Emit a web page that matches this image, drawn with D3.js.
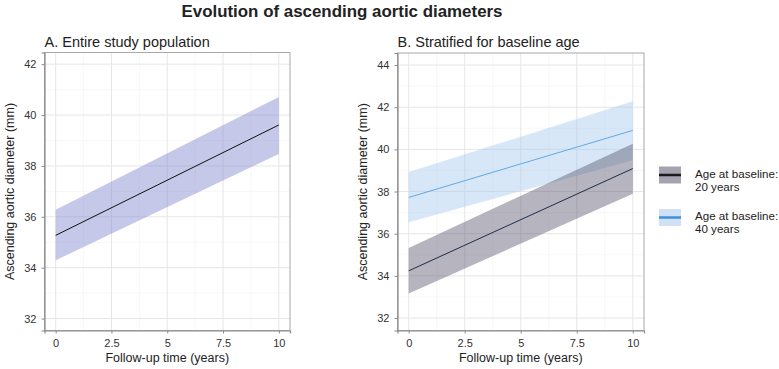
<!DOCTYPE html>
<html><head><meta charset="utf-8">
<script src="https://cdn.jsdelivr.net/npm/d3@7"></script>
<style>body{margin:0;background:#fff;font-family:"Liberation Sans",Arial,sans-serif;}</style>
</head><body><svg id="c" width="779" height="369"></svg>
<script>
const xTicks = [0, 2.5, 5, 7.5, 10];
const xTickLabels = ["0", "2.5", "5", "7.5", "10"];
const yTicksA = [32, 34, 36, 38, 40, 42];
const yTicksB = [32, 34, 36, 38, 40, 42, 44];
const timeA = [0, 10];
const meanA = [35.27, 39.61];
const lowA = [34.29, 38.47];
const highA = [36.28, 40.71];
const timeB = [0, 10];
const mean20 = [34.24, 39.09];
const low20 = [33.16, 37.90];
const high20 = [35.32, 40.27];
const mean40 = [37.72, 40.90];
const low40 = [36.54, 39.48];
const high40 = [38.93, 42.28];
const legendLabels = [["Age at baseline:", "20 years"], ["Age at baseline:", "40 years"]];

const svg = d3.select("#c");
const font = "Liberation Sans, Arial, sans-serif";

svg.append("text").attr("x", 342).attr("y", 16.5).attr("text-anchor", "middle")
  .attr("font-size", 16.9).attr("font-weight", "bold").attr("fill", "#222").attr("font-family", font)
  .text("Evolution of ascending aortic diameters");

function panel(opts) {
  const {left, right, top, bottom, yDomain, yTicks, title, series} = opts;
  const x = d3.scaleLinear().domain([-0.5, 10.5]).range([left, right]);
  const y = d3.scaleLinear().domain(yDomain).range([bottom, top]);
  const g = svg.append("g");
  const xMinor = d3.range(0, 10.01, 1.25).filter(v => !xTicks.includes(v));
  const yMinor = d3.range(Math.ceil(yDomain[0]), yDomain[1], 1).filter(v => !yTicks.includes(v));
  g.selectAll(".vminor").data(xMinor).enter().append("line")
    .attr("x1", d => x(d)).attr("x2", d => x(d)).attr("y1", top).attr("y2", bottom)
    .attr("stroke", "#f1f1f1").attr("stroke-width", 0.6);
  g.selectAll(".hminor").data(yMinor).enter().append("line")
    .attr("y1", d => y(d)).attr("y2", d => y(d)).attr("x1", left).attr("x2", right)
    .attr("stroke", "#f1f1f1").attr("stroke-width", 0.6);
  g.selectAll(".vmajor").data(xTicks).enter().append("line")
    .attr("x1", d => x(d)).attr("x2", d => x(d)).attr("y1", top).attr("y2", bottom)
    .attr("stroke", "#e6e6e6").attr("stroke-width", 1);
  g.selectAll(".hmajor").data(yTicks).enter().append("line")
    .attr("y1", d => y(d)).attr("y2", d => y(d)).attr("x1", left).attr("x2", right)
    .attr("stroke", "#e6e6e6").attr("stroke-width", 1);

  series.forEach(s => {
    const pts = s.t.map((t, i) => ({t, lo: s.lo[i], hi: s.hi[i], m: s.m[i]}));
    g.append("path").datum(pts)
      .attr("d", d3.area().x(d => x(d.t)).y0(d => y(d.lo)).y1(d => y(d.hi)))
      .attr("fill", s.fill).attr("fill-opacity", s.op);
  });
  series.forEach(s => {
    const pts = s.t.map((t, i) => ({t, m: s.m[i]}));
    g.append("path").datum(pts)
      .attr("d", d3.line().x(d => x(d.t)).y(d => y(d.m)))
      .attr("fill", "none").attr("stroke", s.line).attr("stroke-width", 1);
  });

  g.append("rect").attr("x", left).attr("y", top).attr("width", right - left).attr("height", bottom - top)
    .attr("fill", "none").attr("stroke", "#a8a8a8").attr("stroke-width", 1);

  const xa = g.append("g").attr("transform", `translate(0,${bottom})`)
    .call(d3.axisBottom(x).tickValues(xTicks).tickFormat((d, i) => xTickLabels[i]).tickSize(3).tickPadding(6));
  const ya = g.append("g").attr("transform", `translate(${left},0)`)
    .call(d3.axisLeft(y).tickValues(yTicks).tickSize(3).tickPadding(5));
  [xa, ya].forEach(a => {
    a.select(".domain").attr("stroke", "#8a8a8a").attr("stroke-width", 1.2);
    a.selectAll(".tick line").attr("stroke", "#8a8a8a");
    a.selectAll("text").attr("font-size", 11).attr("fill", "#333").attr("font-family", font);
  });

  g.append("text").attr("x", left).attr("y", 46.5).attr("font-size", 14.5).attr("fill", "#222")
    .attr("font-family", font).text(title);
  g.append("text").attr("x", (left + right) / 2).attr("y", 362).attr("text-anchor", "middle")
    .attr("font-size", 12.5).attr("fill", "#222").attr("font-family", font).text("Follow-up time (years)");
  g.append("text").attr("transform", `translate(${left - 31},${(top + bottom) / 2}) rotate(-90)`)
    .attr("text-anchor", "middle").attr("font-size", 12.5).attr("fill", "#222").attr("font-family", font)
    .text("Ascending aortic diameter (mm)");
}

panel({left: 44.5, right: 290, top: 52.5, bottom: 330.5, yDomain: [31.53, 42.46], yTicks: yTicksA,
  title: "A. Entire study population",
  series: [{t: timeA, m: meanA, lo: lowA, hi: highA, fill: "#7f84cc", op: 0.45, line: "#111"}]});

panel({left: 397.5, right: 644, top: 53, bottom: 330.5, yDomain: [31.41, 44.57], yTicks: yTicksB,
  title: "B. Stratified for baseline age",
  series: [
    {t: timeB, m: mean40, lo: low40, hi: high40, fill: "#a9c9ee", op: 0.45, line: "#5ea9e6"},
    {t: timeB, m: mean20, lo: low20, hi: high20, fill: "#5a5870", op: 0.45, line: "#1e2e48"}
  ]});

const legendKeys = [{fill: "#5a5870", op: 0.55, line: "#1a1a1a"}, {fill: "#a9c9ee", op: 0.55, line: "#3f8ee0"}];
const lg = svg.append("g");
legendKeys.forEach((k, i) => {
  const y0 = 166.5 + i * 42.5;
  lg.append("rect").attr("x", 659).attr("y", y0).attr("width", 22).attr("height", 17)
    .attr("fill", k.fill).attr("fill-opacity", k.op);
  lg.append("line").attr("x1", 659).attr("x2", 681).attr("y1", y0 + 8.5).attr("y2", y0 + 8.5)
    .attr("stroke", k.line).attr("stroke-width", 2.5);
  legendLabels[i].forEach((t, j) => {
    lg.append("text").attr("x", 695).attr("y", y0 + 11 + j * 13).attr("font-size", 11.6)
      .attr("fill", "#222").attr("font-family", font).text(t);
  });
});
</script></body></html>
